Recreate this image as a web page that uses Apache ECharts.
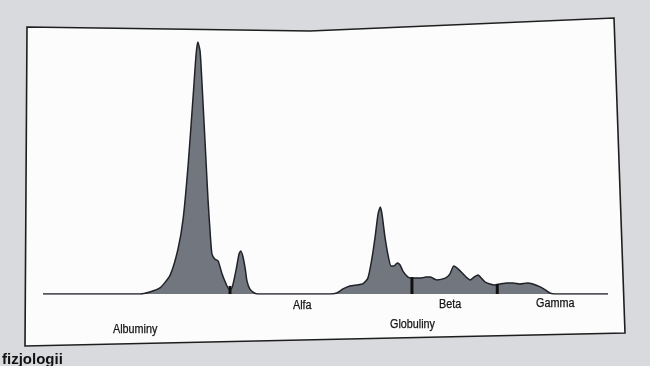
<!DOCTYPE html>
<html><head><meta charset="utf-8">
<script src="https://cdn.jsdelivr.net/npm/echarts@6/dist/echarts.min.js"></script>
<style>html,body{margin:0;padding:0;background:#d9dadd}#c{width:650px;height:366px}</style>
</head><body><div id="c"></div>
<script>
// migration position (0-100 along the baseline) and relative intensity (% of albumin peak)
var positions = [0,17.2,18.9,20.7,22.5,23.9,24.8,25.7,26.6,27.1,27.4,27.8,28.1,28.7,29.2,29.6,29.9,30.4,31.0,31.7,32.4,32.9,33.3,33.6,34.2,34.7,35.0,35.4,35.8,36.1,36.6,37.4,38.1,
  50.8,52.0,53.1,54.3,55.6,56.6,57.5,58.2,58.8,59.3,59.7,60.0,60.5,61.1,61.6,62.1,62.7,63.2,63.7,64.6,65.3,66.7,67.8,68.5,69.7,71.2,72.0,72.7,73.5,74.2,74.9,75.6,76.3,77.0,77.7,78.2,79.1,80.0,80.9,82.1,83.2,84.4,85.7,86.7,88.0,88.9,89.7,90.6,100];
var intensity = [0,0,0.8,2.4,7.5,17.9,29.8,51.6,79.4,95.2,100,96.4,85.3,59.5,37.7,23.8,15.9,13.9,13.1,7.9,4.0,2.0,2.0,3.6,9.9,15.9,17.1,14.7,9.9,5.2,2.0,0.4,0,
  0,0.4,2.0,3.2,3.6,4.0,6.3,13.9,23.0,31.7,34.5,31.7,23.0,15.1,11.1,11.1,12.3,11.5,9.1,6.7,6.3,6.3,6.7,6.7,5.6,6.3,7.9,11.1,9.9,8.3,6.7,5.6,6.7,7.5,6.0,4.8,4.0,3.6,4.0,4.4,4.4,4.0,4.4,4.0,2.8,1.6,0.4,0,0];
// fraction dividers
var dividerPos = [33.1, 65.3, 80.4];
var dividerH = [3.2, 6.7, 4.0];
// fraction labels
var fractionLabels = ['Alfa', 'Beta', 'Gamma'];
var groupLabels = ['Albuminy', 'Globuliny'];

var curve = positions.map(function(p, i){ return [p, intensity[i]]; });
var dividers = dividerPos.map(function(p, i){ return [p, dividerH[i]]; });

var lblFont = '12px "Liberation Sans", Arial, sans-serif';
function lbl(text, x, y){
  return {type: 'text', z: 5, x: x, y: y, scaleX: 0.9,
          style: {text: text, font: lblFont, fill: '#141414', stroke: '#141414', lineWidth: 0.25}};
}
var chart = echarts.init(document.getElementById('c'), null, {renderer: 'canvas'});
chart.setOption({
  backgroundColor: '#d9dadd',
  animation: false,
  grid: {left: 43, right: 42, top: 42, bottom: 72},
  xAxis: {type: 'value', min: 0, max: 100, show: false},
  yAxis: {type: 'value', min: 0, max: 100, show: false},
  graphic: [
    {type: 'polygon', z: -10, shape: {points: [[27,27],[310,31],[614,18],[625,333],[25,346]]},
     style: {fill: '#fcfcfc', stroke: '#1e1e1e', lineWidth: 1.6}},
    lbl(fractionLabels[0], 293, 300),
    lbl(fractionLabels[1], 439, 299),
    lbl(fractionLabels[2], 536, 298),
    lbl(groupLabels[0], 113, 324),
    lbl(groupLabels[1], 390, 319),
    {type: 'text', z: 5, x: 2, y: 352, style: {text: 'fizjologii', font: 'bold 15px "Liberation Sans", Arial, sans-serif', fill: '#111'}}
  ],
  series: [
    {type: 'line', data: curve, symbol: 'none', smooth: 0.2, z: 3,
     lineStyle: {color: '#202228', width: 1.5},
     areaStyle: {color: '#72767f', opacity: 1}},
    {type: 'bar', data: dividers, barWidth: 3, z: 4, itemStyle: {color: '#111'}}
  ]
});
</script></body></html>
